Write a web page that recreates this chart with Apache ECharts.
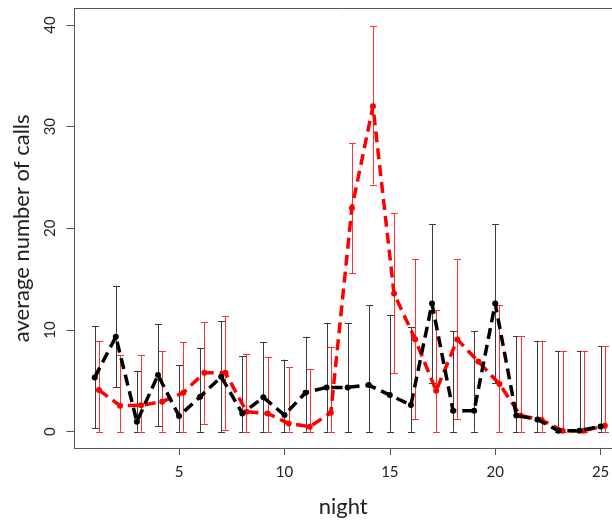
<!DOCTYPE html>
<html>
<head>
<meta charset="utf-8">
<script src="https://cdn.jsdelivr.net/npm/echarts@6/dist/echarts.min.js"></script>
<style>
html,body{margin:0;padding:0;background:#fff;}
#chart{width:612px;height:520px;}
</style>
</head>
<body>
<div id="chart"></div>
<script>
const nights = [1,2,3,4,5,6,7,8,9,10,11,12,13,14,15,16,17,18,19,20,21,22,23,24,25];
const xTicks = [5,10,15,20,25];
const yTicks = [0,10,20,30,40];

const blackMean = [5.34,9.34,0.98,5.57,1.54,3.44,5.4,1.8,3.38,1.64,3.84,4.36,4.36,4.59,3.6,2.62,12.6,2.07,2.07,12.6,1.6,1.2,0.1,0.1,0.52];
const blackHigh = [10.4,14.36,6.0,10.6,6.56,8.2,10.9,7.4,8.85,7.1,9.34,10.7,10.7,12.46,11.5,10.3,20.4,9.9,9.9,20.4,9.4,8.95,7.97,7.97,8.43];
const blackLow  = [0.35,4.35,0,0.55,0,0,0,0,0,0,0,0,0,0,0,0,4.8,0,0,4.8,0,0,0,0,0];

const redMean = [4.1,2.56,2.6,2.95,3.84,5.8,5.8,1.97,1.8,0.82,0.49,1.87,22.0,32.0,13.6,9.1,4.03,9.08,6.9,4.7,1.6,1.15,0.1,0.1,0.58];
const redHigh = [8.95,7.5,7.5,7.97,8.8,10.75,11.4,7.6,7.38,6.33,6.13,8.36,28.4,39.9,21.5,16.95,11.97,16.95,null,12.46,9.4,8.95,7.97,7.97,8.43];
const redLow  = [0,0,0,0,0,0.8,0.2,0,0,0,0,0,15.6,24.3,5.74,1.25,0,1.25,null,0,0,0,0,0,0];

const RED_SHIFT = 0.2;

function barData(lows, highs, shift){
  const out = [];
  nights.forEach((n,i)=>{
    if (highs[i] !== null && lows[i] !== null) out.push([n+shift, lows[i], highs[i]]);
  });
  return out;
}
function lineData(means, shift){
  return nights.map((n,i)=>[n+shift, means[i]]);
}
function errRender(color){
  return function(params, api){
    const x = api.value(0);
    const lo = api.coord([x, api.value(1)]);
    const hi = api.coord([x, api.value(2)]);
    const cx = Math.round(lo[0]) + 0.5;
    const w = 3.5;
    const st = {stroke: color, lineWidth: 1, fill: null};
    return {
      type: 'group',
      children: [
        {type:'line', shape:{x1:cx, y1:lo[1], x2:cx, y2:hi[1]}, style:st},
        {type:'line', shape:{x1:cx-w, y1:Math.round(lo[1])+0.5, x2:cx+w, y2:Math.round(lo[1])+0.5}, style:st},
        {type:'line', shape:{x1:cx-w, y1:Math.round(hi[1])+0.5, x2:cx+w, y2:Math.round(hi[1])+0.5}, style:st}
      ]
    };
  };
}

const chart = echarts.init(document.getElementById('chart'), null, {renderer:'canvas'});
const FONT = 'Lato';
const X_MIN = 0.04, X_MAX = 25.54;
chart.setOption({
  animation: false,
  backgroundColor: '#ffffff',
  grid: {
    left: 74.5, right: 0, top: 8.7, bottom: 72, show: false,
    containLabel: false, outerBoundsMode: 'none'
  },
  xAxis: [{
    type: 'value', min: X_MIN, max: X_MAX, position: 'bottom',
    name: 'night', nameLocation: 'middle', nameGap: 48,
    nameTextStyle: {fontFamily: FONT, fontSize: 22, color: '#222'},
    axisLine: {show: true, onZero: false, lineStyle: {color: '#555555', width: 1}},
    axisTick: {show: true, length: 7, customValues: xTicks, lineStyle: {color: '#555555'}},
    axisLabel: {show: true, customValues: xTicks, margin: 17, fontFamily: FONT, fontSize: 15, color: '#222'},
    splitLine: {show: false}
  }, {
    type: 'value', min: X_MIN, max: X_MAX, position: 'top',
    axisLine: {show: true, onZero: false, lineStyle: {color: '#555555', width: 1}},
    axisTick: {show: false}, axisLabel: {show: false}, splitLine: {show: false}
  }],
  yAxis: {
    type: 'value', min: -1.6, max: 41.6,
    name: 'average number of calls', nameLocation: 'middle', nameGap: 42,
    nameTextStyle: {fontFamily: FONT, fontSize: 22, color: '#222'},
    axisLine: {show: true, onZero: false, lineStyle: {color: '#555555', width: 1}},
    axisTick: {show: true, length: 8, customValues: yTicks, lineStyle: {color: '#555555'}},
    axisLabel: {show: true, customValues: yTicks, rotate: 90, margin: 17, fontFamily: FONT, fontSize: 15, color: '#222'},
    splitLine: {show: false}
  },
  series: [
    {
      type: 'custom', name: 'black err', z: 1,
      renderItem: errRender('#3a3a3a'),
      data: barData(blackLow, blackHigh, 0),
      encode: {x: 0, y: [1,2]}
    },
    {
      type: 'custom', name: 'red err', z: 1,
      renderItem: errRender('#ff3030'),
      data: barData(redLow, redHigh, RED_SHIFT),
      encode: {x: 0, y: [1,2]}
    },
    {
      type: 'line', name: 'red', z: 2,
      data: lineData(redMean, RED_SHIFT),
      symbol: 'circle', symbolSize: 6,
      itemStyle: {color: '#ff0000'},
      lineStyle: {color: '#ff0000', width: 3.5, type: [11, 6]}
    },
    {
      type: 'line', name: 'black', z: 3,
      data: lineData(blackMean, 0),
      symbol: 'circle', symbolSize: 6,
      itemStyle: {color: '#000000'},
      lineStyle: {color: '#000000', width: 3.5, type: [11, 6]}
    }
  ]
});
</script>
</body>
</html>
